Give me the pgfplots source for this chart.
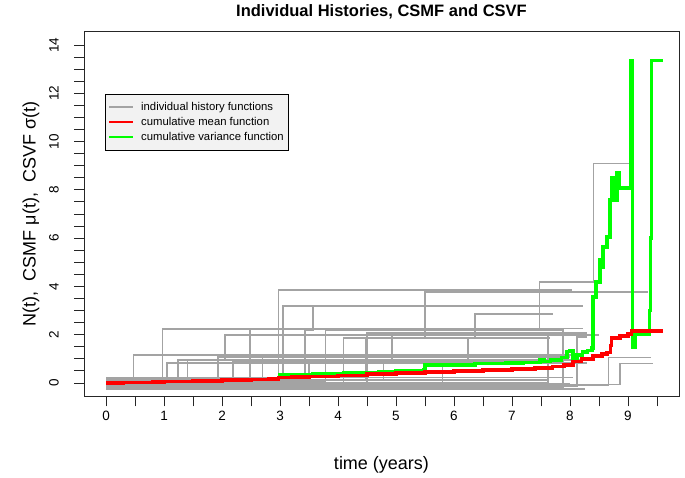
\documentclass[border=0pt]{standalone}
\usepackage{pgfplots}
\pgfplotsset{compat=1.18}
\usepackage{fontspec}
\setmainfont{Liberation Sans}
\definecolor{histgray}{HTML}{A3A3A3}
\definecolor{rred}{HTML}{FF0000}
\definecolor{rgreen}{HTML}{00FF00}
\begin{document}
\begin{tikzpicture}
\useasboundingbox (0,0) rectangle (685bp,478bp);
\begin{axis}[
  at={(84bp,81.5bp)}, anchor=south west,
  scale only axis, width=595bp, height=365bp,
  xmin=-0.38, xmax=9.88, ymin=-0.56, ymax=14.56,
  axis line style={line width=0.9bp, black!85},
  xtick={0,...,9}, minor xtick={0.5,1.5,...,9.5},
  ytick={0,2,...,14}, minor ytick={0.5,1,...,14},
  tick align=outside, xtick pos=bottom, ytick pos=left,
  major tick length=10bp, minor tick length=10bp,
  every tick/.style={line width=0.9bp, black!85},
  /pgf/number format/assume math mode=true,
  ticklabel style={font=\fontsize{13.5bp}{16bp}\selectfont},
  xticklabel style={anchor=center, yshift=-9bp},
  yticklabel style={anchor=center, xshift=-20bp, rotate=90},
  title={Individual Histories, CSMF and CSVF},
  title style={font=\bfseries\fontsize{16.5bp}{19bp}\selectfont, at={(axis description cs:0.5,1.038)}, anchor=center},
  xlabel={time (years)},
  xlabel style={font=\fontsize{18bp}{21bp}\selectfont, at={(axis description cs:0.5,-0.1863)}, anchor=center},
  ylabel={N(t),\ \ CSMF μ(t),\ \ CSVF σ(t)},
  ylabel style={font=\fontsize{18bp}{21bp}\selectfont, at={(axis description cs:-0.089,0.5)}, anchor=center},
  legend style={at={(axis description cs:0.0353,0.829)}, anchor=north west, draw=black, fill=black!5,
    font=\fontsize{11.3bp}{13bp}\selectfont, inner xsep=3bp, inner ysep=7bp, row sep=3.5bp,
    nodes={inner sep=1bp}, column sep=6bp},
  legend cell align=left,
  legend image code/.code={\draw[#1, line width=2bp] (0bp,0bp) -- (24bp,0bp);},
]
\addlegendimage{histgray}
\addlegendentry{individual history functions}
\addlegendimage{rred}
\addlegendentry{cumulative mean function}
\addlegendimage{rgreen}
\addlegendentry{cumulative variance function}

\pgfplotsset{every axis plot/.append style={forget plot}}
% individual histories
\addplot[histgray, const plot, line width=1.3bp] coordinates {(0,0.20) (0.47,1.16) (8.15,1.16)};
\addplot[histgray, const plot, line width=1.3bp] coordinates {(0,0.00) (0.97,2.24) (7.48,4.18) (8.40,9.10) (9.02,9.10)};
\addplot[histgray, const plot, line width=1.3bp] coordinates {(0,0.10) (1.05,0.83) (8.30,0.83)};
\addplot[histgray, const plot, line width=1.3bp] coordinates {(0,0.15) (1.24,0.95) (2.05,1.99) (8.50,1.99)};
\addplot[histgray, const plot, line width=1.3bp] coordinates {(0,-0.10) (1.93,1.08) (8.00,1.08)};
\addplot[histgray, const plot, line width=1.3bp] coordinates {(0,0.05) (2.19,0.90) (7.70,0.90)};
\addplot[histgray, const plot, line width=1.3bp] coordinates {(0,0.20) (2.48,2.24) (7.86,2.24)};
\addplot[histgray, const plot, line width=1.3bp] coordinates {(0,-0.05) (2.70,1.08) (7.95,1.08)};
\addplot[histgray, const plot, line width=1.3bp] coordinates {(0,0.00) (2.97,3.85) (8.03,3.85)};
\addplot[histgray, const plot, line width=1.3bp] coordinates {(0,0.10) (3.05,3.19) (8.22,3.19)};
\addplot[histgray, const plot, line width=1.3bp] coordinates {(0,-0.15) (3.43,2.20) (3.57,3.19) (7.30,3.19)};
\addplot[histgray, const plot, line width=1.3bp] coordinates {(0,0.05) (3.78,2.20) (7.90,2.20)};
\addplot[histgray, const plot, line width=1.3bp] coordinates {(0,0.00) (4.10,1.86) (5.50,3.77) (9.35,3.77)};
\addplot[histgray, const plot, line width=1.3bp] coordinates {(0,0.10) (4.47,1.86) (6.36,2.86) (7.70,2.86)};
\addplot[histgray, const plot, line width=1.3bp] coordinates {(0,-0.20) (4.50,2.07) (8.30,2.07)};
\addplot[histgray, const plot, line width=1.3bp] coordinates {(0,0.15) (4.78,0.90) (4.93,2.07) (8.10,2.07)};
\addplot[histgray, const plot, line width=1.3bp] coordinates {(0,-0.10) (5.80,0.95) (6.24,1.86) (7.66,1.86)};
\addplot[histgray, const plot, line width=1.3bp] coordinates {(0,0.00) (7.62,2.00) (8.50,2.00)};
\addplot[histgray, const plot, line width=1.3bp] coordinates {(0,-0.10) (8.66,1.05) (9.40,1.05)};
\addplot[histgray, const plot, line width=1.3bp] coordinates {(0,-0.05) (8.86,0.80) (9.43,0.80)};
\addplot[histgray, const plot, line width=1.3bp] coordinates {(0,-0.22) (8.26,-0.22)};
\addplot[histgray, const plot, line width=1.3bp] coordinates {(0,-0.18) (7.88,2.26) (8.22,2.26)};
\addplot[histgray, const plot, line width=1.3bp] coordinates {(0,0.22) (8.05,0.22)};
\addplot[histgray, const plot, line width=1.3bp] coordinates {(0,-0.25) (8.26,-0.25)};
\addplot[histgray, const plot, line width=1.3bp] coordinates {(0,0.12) (7.60,0.12)};
\addplot[histgray, const plot, line width=1.3bp] coordinates {(0,-0.12) (8.12,1.90) (8.30,1.90)};
\addplot[histgray, const plot, line width=1.3bp] coordinates {(0,0.18) (1.40,0.95) (8.40,0.95)};
\addplot[histgray, const plot, line width=1.3bp] coordinates {(0,0.08) (3.50,0.85) (7.40,0.85)};
\addplot[histgray, const plot, line width=1.3bp] coordinates {(0,-0.20) (7.10,-0.20)};
\addplot[histgray, const plot, line width=1.3bp] coordinates {(0,-0.02) (8.00,-0.02)};
% cumulative variance function
\addplot[rgreen, const plot, line width=3.5bp] coordinates {
(0,0) (0.3,0.01) (0.5,0.03) (0.8,0.04) (1,0.06) (1.3,0.07) (1.5,0.09) (2,0.12) (2.3,0.13)
(2.5,0.15) (2.8,0.17) (2.97,0.22) (3.0,0.33) (3.57,0.40) (4.1,0.43) (4.7,0.47) (5.0,0.50)
(5.47,0.55) (5.5,0.75) (6.0,0.74) (6.36,0.80) (6.9,0.83) (7.2,0.85) (7.48,0.95) (7.55,0.88)
(7.66,0.95) (7.85,1.05) (7.95,1.30) (8.0,1.35) (8.05,1.00) (8.12,1.15) (8.22,1.28) (8.3,1.35)
(8.38,1.45) (8.40,3.56) (8.45,4.18) (8.52,5.10) (8.54,4.80) (8.57,5.63) (8.64,6.05) (8.69,7.58)
(8.72,8.50) (8.74,7.58) (8.81,8.70) (8.85,8.08) (9.03,8.08) (9.05,13.35) (9.08,1.50) (9.13,2.00)
(9.35,2.00) (9.37,3.00) (9.39,6.00) (9.41,13.35) (9.60,13.35)};
% cumulative mean function
\addplot[rred, const plot, line width=3.5bp] coordinates {
(0,0) (0.3,0.01) (0.5,0.03) (0.8,0.04) (1,0.06) (1.3,0.07) (1.5,0.09) (2,0.12) (2.3,0.13)
(2.5,0.15) (2.8,0.17) (2.97,0.22) (3.2,0.24) (3.5,0.27) (4,0.32) (4.5,0.37) (5,0.41) (5.5,0.45)
(6,0.49) (6.5,0.53) (7,0.57) (7.4,0.62) (7.7,0.68) (7.9,0.75) (8.05,0.88) (8.2,1.00) (8.4,1.12)
(8.55,1.20) (8.64,1.26) (8.70,1.55) (8.72,1.86) (8.86,1.95) (9.0,2.02) (9.06,2.15) (9.6,2.15)};
\end{axis}
\end{tikzpicture}
\end{document}
